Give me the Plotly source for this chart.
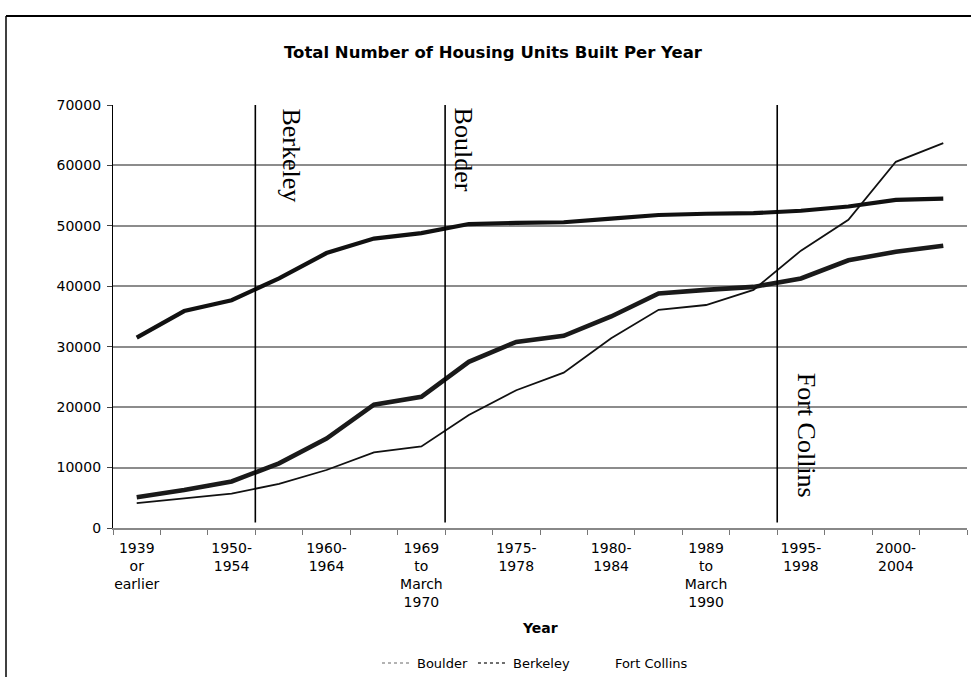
import plotly.graph_objects as go

# Census "year structure built" periods (cumulative housing units)
periods = [
    "1939 or earlier", "1940-1949", "1950-1954", "1955-1959", "1960-1964",
    "1965-1968", "1969 to March 1970", "1970-1974", "1975-1978",
    "1979 to March 1980", "1980-1984", "1985-1988", "1989 to March 1990",
    "1990-1994", "1995-1998", "1999 to March 2000", "2000-2004", "2005",
]
# Labels printed under the axis (every other period)
tick_labels = [
    "1939<br>or<br>earlier", "", "1950-<br>1954", "", "1960-<br>1964", "",
    "1969<br>to<br>March<br>1970", "", "1975-<br>1978", "", "1980-<br>1984", "",
    "1989<br>to<br>March<br>1990", "", "1995-<br>1998", "", "2000-<br>2004", "",
]

boulder = [5100, 6300, 7700, 10700, 14800, 20400, 21700, 27500, 30800,
           31800, 35000, 38800, 39400, 39900, 41300, 44300, 45700, 46700]
berkeley = [31500, 35900, 37700, 41300, 45500, 47900, 48800, 50300, 50500,
            50600, 51200, 51800, 52000, 52100, 52500, 53200, 54300, 54500]
fort_collins = [4100, 4900, 5700, 7300, 9600, 12500, 13500, 18700, 22800,
                25700, 31400, 36100, 36900, 39400, 45900, 51000, 60600, 63700]

# Growth-management milestones: (boundary after period index, city, label offset px)
milestones = [(2.5, "Berkeley", 36), (6.5, "Boulder", 18), (13.5, "Fort Collins", 29)]
milestone_y = [61600, 62600, 15400]

W, H = 971, 677
ML, MR, MT, MB = 113, 4, 105, 149
pw = W - ML - MR
ph = H - MT - MB


def px_to_paper_x(px):
    return (px - ML) / pw


def px_to_paper_y(py):
    return (H - MB - py) / ph


fig = go.Figure()

# Drawn series
fig.add_trace(go.Scatter(x=periods, y=berkeley, mode="lines", name="Berkeley",
                         line=dict(color="#111111", width=4.2), showlegend=False,
                         legendgroup="berkeley"))
fig.add_trace(go.Scatter(x=periods, y=boulder, mode="lines", name="Boulder",
                         line=dict(color="#1a1a1a", width=4.6), showlegend=False,
                         legendgroup="boulder"))
fig.add_trace(go.Scatter(x=periods, y=fort_collins, mode="lines", name="Fort Collins",
                         line=dict(color="#111111", width=1.8), showlegend=False,
                         legendgroup="fortcollins"))

# Legend keys
fig.add_trace(go.Scatter(x=[None], y=[None], mode="lines", name="Boulder",
                         legendgroup="boulder",
                         line=dict(color="#9a9a9a", width=1.5, dash="dot")))
fig.add_trace(go.Scatter(x=[None], y=[None], mode="lines", name="Berkeley",
                         legendgroup="berkeley",
                         line=dict(color="#6e6e6e", width=2, dash="dot")))
fig.add_trace(go.Scatter(x=[None], y=[None], mode="lines", name="Fort Collins",
                         legendgroup="fortcollins",
                         line=dict(color="rgba(255,255,255,0)", width=1)))

shapes = []
annotations = []
for (xb, city, shift), yy in zip(milestones, milestone_y):
    shapes.append(dict(type="line", xref="x", yref="y", x0=xb, x1=xb,
                       y0=900, y1=70000, line=dict(color="#000000", width=1.6)))
    annotations.append(dict(x=xb, y=yy, xref="x", yref="y", text=city,
                            showarrow=False, textangle=90, xshift=shift,
                            xanchor="center", yanchor="middle",
                            font=dict(family="Liberation Serif", size=26, color="#000")))

# Outer chart border (top and left edges)
bx = px_to_paper_x(6)
by = px_to_paper_y(16)
shapes.append(dict(type="line", xref="paper", yref="paper", x0=bx, x1=1.2,
                   y0=by, y1=by, line=dict(color="#000", width=2)))
shapes.append(dict(type="line", xref="paper", yref="paper", x0=bx, x1=bx,
                   y0=by, y1=-0.5, line=dict(color="#000", width=1.5)))

fig.update_layout(
    width=W, height=H,
    margin=dict(l=ML, r=MR, t=MT, b=MB, autoexpand=False),
    paper_bgcolor="white", plot_bgcolor="white",
    font=dict(family="DejaVu Sans", size=14, color="#000"),
    title=dict(text="<b>Total Number of Housing Units Built Per Year</b>",
               x=px_to_paper_x(493), xref="paper", xanchor="center",
               y=1 - 52 / H, yanchor="middle",
               font=dict(family="DejaVu Sans", size=16.5, color="#000")),
    legend=dict(orientation="h", x=px_to_paper_x(377), xanchor="left",
                y=px_to_paper_y(663), yanchor="middle",
                font=dict(size=13), bgcolor="rgba(0,0,0,0)"),
    shapes=shapes,
    annotations=annotations + [
        dict(text="<b>Year</b>", xref="paper", yref="paper",
             x=px_to_paper_x(540), y=px_to_paper_y(628), showarrow=False,
             xanchor="center", yanchor="middle",
             font=dict(family="DejaVu Sans", size=14, color="#000")),
    ],
)

fig.update_xaxes(
    type="category", categoryorder="array", categoryarray=periods,
    tickmode="array", tickvals=periods, ticktext=tick_labels,
    tickson="boundaries", ticks="outside", ticklen=5, tickcolor="#777",
    tickwidth=1, showline=True, linecolor="#888", linewidth=1.5,
    showgrid=False, range=[-0.5, 17.5], tickangle=0, ticklabelstandoff=6,
    tickfont=dict(size=14),
)
fig.update_yaxes(
    range=[0, 70000], dtick=10000, tickformat="d",
    showgrid=True, gridcolor="#8c8c8c", gridwidth=1.5,
    showline=True, linecolor="#000", linewidth=1.3,
    ticks="outside", ticklen=5, tickcolor="#444", zeroline=False,
    tickfont=dict(size=14), ticklabelstandoff=3,
)

fig.write_html("out.html")
